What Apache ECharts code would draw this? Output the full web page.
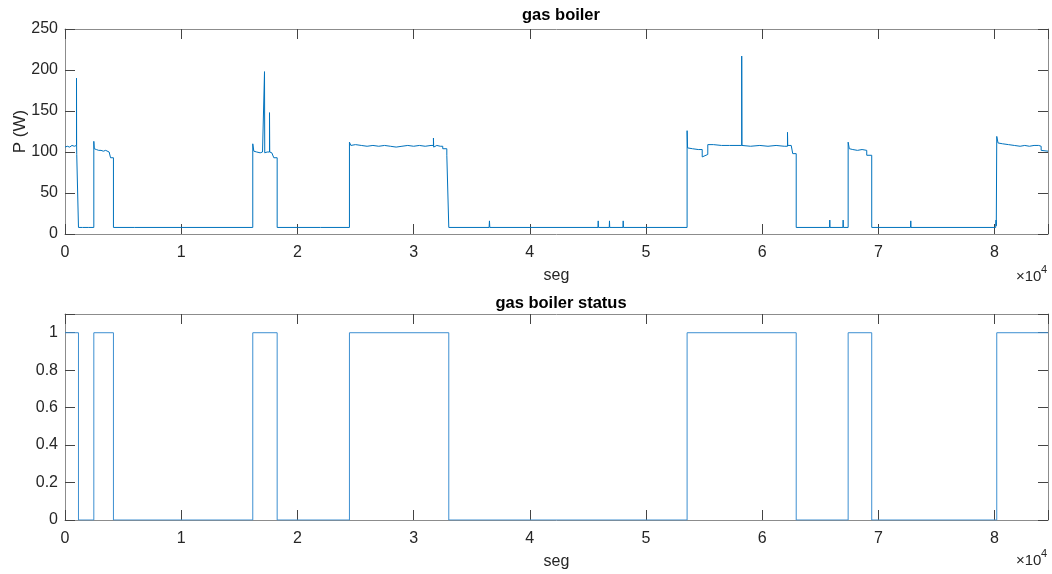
<!DOCTYPE html>
<html>
<head>
<meta charset="utf-8">
<script src="https://cdn.jsdelivr.net/npm/echarts@6/dist/echarts.min.js"></script>
<style>
html,body{margin:0;padding:0;background:#fff;}
#c{width:1052px;height:574px;}
</style>
</head>
<body>
<div id="c"></div>
<script>
// ---- data ----
const titles = ['gas boiler', 'gas boiler status'];
const xTickLabels = ['0','1','2','3','4','5','6','7','8'];
const powerTicks = [0, 50, 100, 150, 200, 250];
const statusTicks = [0, 0.2, 0.4, 0.6, 0.8, 1];

// gas boiler power (seg, W)
const powerX = [
  0,200,400,600,800,990,990,1000,1010,1080,1100,1160,1160,
  1500,2000,2480,2480,2520,2700,2900,3100,3300,3500,3650,3800,3900,3920,4170,4170,
  6000,10000,16160,16160,16250,16500,16800,17000,17170,17170,17190,17400,17600,17600,17620,17800,17970,17970,18260,18260,
  22000,24480,24480,24600,25000,25500,26000,26500,27000,27500,28000,28500,29000,29500,30000,30500,31000,31500,31710,31710,31730,32000,32300,32510,32510,32860,32860,33030,33030,
  36500,36530,36560,45870,45890,45910,46840,46860,46880,48020,48040,48060,
  53540,53540,53580,54000,54500,54840,54840,55000,55320,55320,55800,56500,57200,58240,58240,58260,59000,59800,60500,61200,61900,62180,62180,62200,62500,62630,62630,62930,62930,
  65800,65820,65840,66950,66970,66990,67400,67400,67500,67800,68200,68600,69000,69000,69430,69430,
  72770,72790,72810,80100,80130,80150,80190,80190,80300,80700,81200,81700,82200,82600,83000,83400,83800,84010,84010,84600
];
const powerY = [
  106,107,106,108,107,108,190,108,97,95,97,95,8,
  8,8,8,113,104,103,102,102,101,102,100,100,99,93,93,8,
  8,8,8,110,101,100,99,100,99,198,99,100,100,148,100,99,100,93,93,8,
  8,8,112,108,109,108,107,108,107,108,107,106,107,108,107,108,107,108,108,117,106,108,107,107,104,104,96,96,8,
  8,16,8,8,16,8,8,16,8,8,16,8,
  8,126,105,104,103,103,94,96,97,109,109,108,108,108,217,108,107,108,107,108,107,107,124,108,108,108,98,98,8,
  8,17,8,8,17,8,8,112,104,103,102,103,102,96,96,8,
  8,16,8,8,17,10,10,119,111,110,109,108,107,108,107,108,108,107,102,101
];

// gas boiler status: switching instants and state after each
const statusX = [0,1160,2480,4170,16160,18260,24480,33030,53540,62930,67400,69430,80190,84600];
const statusY = [1,0,1,0,1,0,1,0,1,0,1,0,1,1];

const X_MAX = 84600;

const powerData = powerX.map((x, i) => [x, powerY[i]]);
const statusData = statusX.map((x, i) => [x, statusY[i]]);

const TEXT = '#262626';
const BOX = '#8c8c8c';
const FONT = 'Liberation Sans, Arial, sans-serif';

function xLabel(v) {
  const k = Math.round(v / 10000);
  return Math.abs(v - k * 10000) < 1e-6 && xTickLabels[k] !== undefined ? xTickLabels[k] : '';
}
function yLabel(ticks) {
  return v => {
    for (const t of ticks) if (Math.abs(v - t) < 1e-9) return String(t);
    return '';
  };
}
function mkX(grid, pos, labels) {
  return {
    type: 'value', gridIndex: grid, position: pos, min: 0, max: X_MAX, interval: 10000,
    axisLine: { show: true, onZero: false, lineStyle: { color: BOX, width: 1 } },
    axisTick: { show: true, inside: true, length: 10, lineStyle: { color: '#444', width: 1 } },
    axisLabel: { show: labels, color: TEXT, fontSize: 16, fontFamily: FONT, margin: 11, formatter: xLabel },
    splitLine: { show: false },
    name: labels ? 'seg' : '', nameLocation: 'middle', nameGap: 34, nameMoveOverlap: false,
    nameTextStyle: { color: TEXT, fontSize: 16, fontFamily: FONT }
  };
}
function mkY(grid, pos, labels, max, interval, ticks, name) {
  return {
    type: 'value', gridIndex: grid, position: pos, min: 0, max: max, interval: interval,
    axisLine: { show: true, onZero: false, lineStyle: { color: BOX, width: 1 } },
    axisTick: { show: true, inside: true, length: 10, lineStyle: { color: '#444', width: 1 } },
    axisLabel: { show: labels, color: TEXT, fontSize: 16, fontFamily: FONT, margin: 7, formatter: yLabel(ticks) },
    splitLine: { show: false },
    name: name || '', nameLocation: 'middle', nameGap: 36, nameRotate: 90, nameMoveOverlap: false,
    nameTextStyle: { color: TEXT, fontSize: 17, fontFamily: FONT }
  };
}

const chart = echarts.init(document.getElementById('c'), null, { renderer: 'canvas' });
chart.setOption({
  animation: false,
  backgroundColor: '#ffffff',
  title: [
    { text: titles[0], left: 556, top: 2, textAlign: 'center',
      textStyle: { fontSize: 16.5, fontWeight: 'bold', color: '#000', fontFamily: FONT } },
    { text: titles[1], left: 556, top: 290, textAlign: 'center',
      textStyle: { fontSize: 16.5, fontWeight: 'bold', color: '#000', fontFamily: FONT } }
  ],
  grid: [
    { left: 65, top: 29, width: 983, height: 205, containLabel: false, outerBoundsMode: 'none' },
    { left: 65, top: 314, width: 983, height: 206, containLabel: false, outerBoundsMode: 'none' }
  ],
  xAxis: [mkX(0, 'bottom', true), mkX(0, 'top', false), mkX(1, 'bottom', true), mkX(1, 'top', false)],
  yAxis: [
    mkY(0, 'left', true, 250, 50, powerTicks, 'P (W)'),
    mkY(0, 'right', false, 250, 50, powerTicks),
    mkY(1, 'left', true, 1.1, 0.2, statusTicks),
    mkY(1, 'right', false, 1.1, 0.2, statusTicks)
  ],
  graphic: [
    { type: 'text', left: 1016, top: 269, style: { text: '×10', fontSize: 15, fontFamily: FONT, fill: TEXT } },
    { type: 'text', left: 1041, top: 264, style: { text: '4', fontSize: 11, fontFamily: FONT, fill: TEXT } },
    { type: 'text', left: 1016, top: 553, style: { text: '×10', fontSize: 15, fontFamily: FONT, fill: TEXT } },
    { type: 'text', left: 1041, top: 548, style: { text: '4', fontSize: 11, fontFamily: FONT, fill: TEXT } }
  ],
  series: [
    { type: 'line', xAxisIndex: 0, yAxisIndex: 0, data: powerData, showSymbol: false, symbol: 'none',
      lineStyle: { color: '#0072BD', width: 1 }, z: 1 },
    { type: 'line', xAxisIndex: 2, yAxisIndex: 2, data: statusData, step: 'end', showSymbol: false, symbol: 'none',
      lineStyle: { color: '#3d8fd1', width: 1 }, z: 1 }
  ]
});
</script>
</body>
</html>
